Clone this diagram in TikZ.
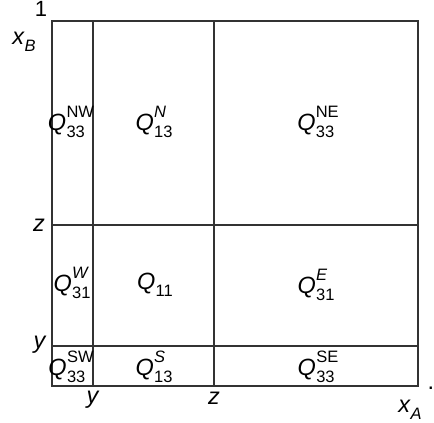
\documentclass[tikz,border=0pt]{standalone}
\usepackage{fontspec}
\setmainfont{Liberation Sans}
\newcommand{\scr}{\fontsize{16.5}{16.5}\selectfont}
\newcommand{\Qlab}[2]{\textit{Q}\kern0.3pt\rlap{\raisebox{0.55em}{\scr #1}}\raisebox{-0.3em}{\scr #2}}
\newcommand{\Qlaw}[2]{\textit{Q}\kern0.3pt\raisebox{-0.3em}{\scr\rlap{#2}}\raisebox{0.55em}{\scr #1}}
\begin{document}
\begin{tikzpicture}[x=1pt,y=-1pt,
  lab/.style={font=\fontsize{23.5}{23.5}\selectfont, inner sep=0pt},
  grid/.style={line width=1.3pt, black!80}]
\useasboundingbox (0,0) rectangle (434,423);
\coordinate (tl) at (52,21);
\coordinate (br) at (418,386);
\draw[grid] (tl) rectangle (br);
\coordinate (ytop) at (93,21);  \coordinate (ybot) at (93,386);
\coordinate (ztop) at (214,21); \coordinate (zbot) at (214,386);
\coordinate (zl) at (52,225);   \coordinate (zr) at (418,225);
\coordinate (yl) at (52,346);   \coordinate (yr) at (418,346);
\draw[grid] (ytop) -- (ybot);
\draw[grid] (ztop) -- (zbot);
\draw[grid] (zl) -- (zr);
\draw[grid] (yl) -- (yr);
% axis labels
\node[lab, font=\fontsize{22}{22}\selectfont] (one) at (41,9) {1};
\node[lab] (xB) at (24,42) {\textit{x}\raisebox{-0.3em}{\scr\textit{B}}};
\node[lab] (zL) at (39,225) {\textit{z}};
\node[lab] (yL) at (40,345) {\textit{y}};
\node[lab] (yB) at (93,400) {\textit{y}};
\node[lab] (zB) at (214,398) {\textit{z}};
\node[lab] (xA) at (410,410) {\textit{x}\raisebox{-0.3em}{\scr\textit{A}}};
\node[lab] (dot) at (431,388) {.};
% region labels
\node[lab] (nw) at (71,122) {\Qlaw{NW}{33}};
\node[lab] (n) at (154,122) {\Qlab{\textit{N}}{13}};
\node[lab] (ne) at (318,122) {\Qlaw{NE}{33}};
\node[lab] (w) at (72,283) {\Qlab{\textit{W}}{31}};
\node[lab] (c) at (155,285) {\Qlab{}{11}};
\node[lab] (e) at (316,285) {\Qlab{\textit{E}}{31}};
\node[lab] (sw) at (71,367) {\Qlaw{SW}{33}};
\node[lab] (s) at (154,367) {\Qlab{\textit{S}}{13}};
\node[lab] (se) at (318,367) {\Qlaw{SE}{33}};
\end{tikzpicture}
\end{document}
